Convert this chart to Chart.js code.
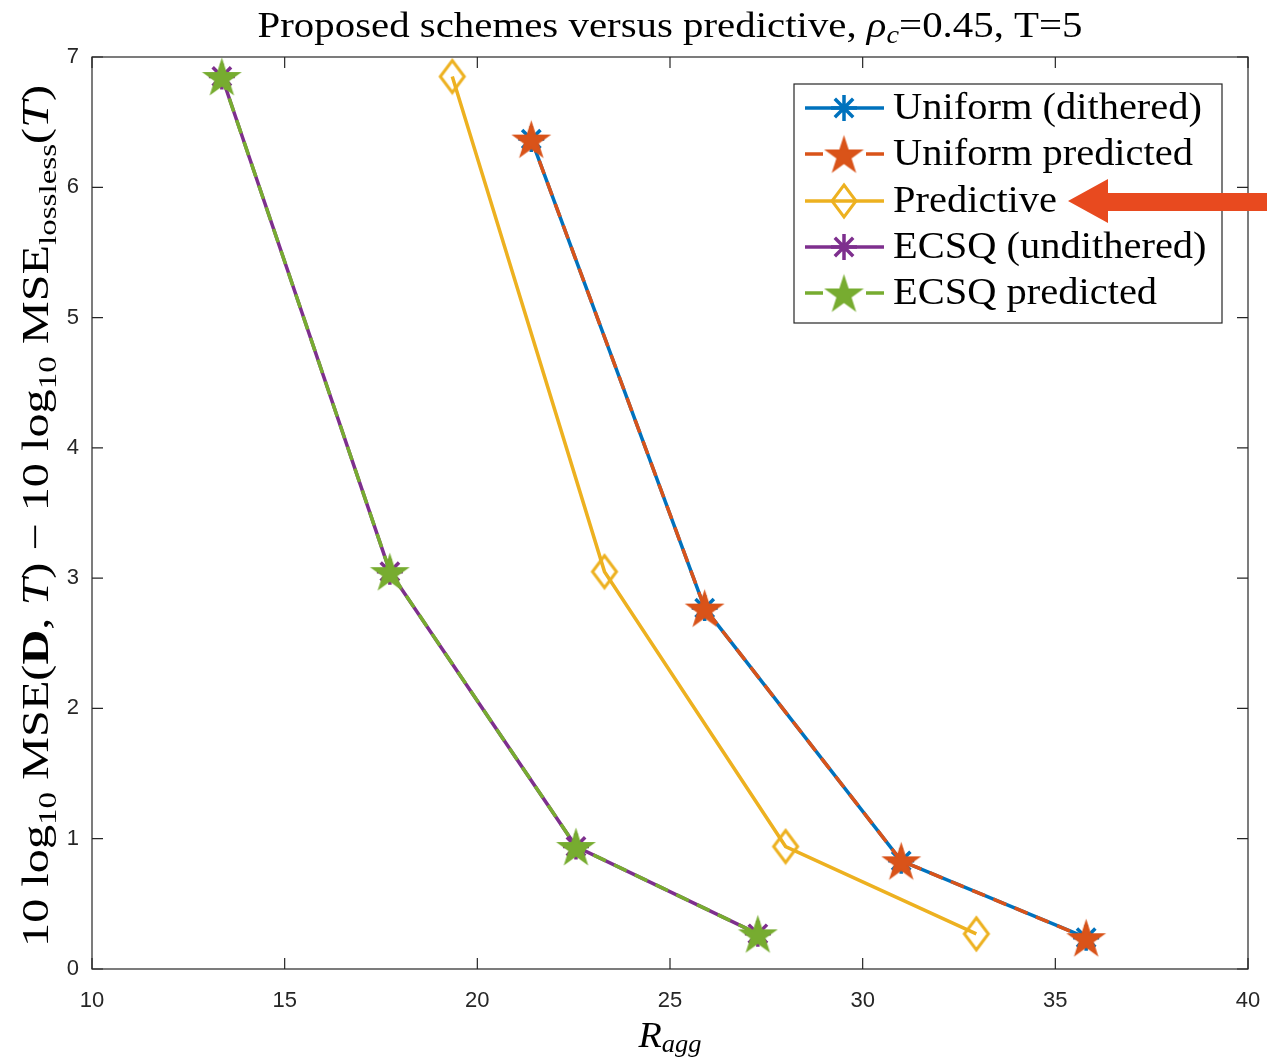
<!DOCTYPE html>
<html>
<head>
<meta charset="utf-8">
<script src="https://cdn.jsdelivr.net/npm/chart.js@4/dist/chart.umd.min.js"></script>
<style>
  html, body { margin: 0; padding: 0; background: #fff; }
  #wrap { width: 1267px; height: 1061px; position: relative; }
</style>
</head>
<body>
<div id="wrap"><canvas id="mseChart" width="1267" height="1061"></canvas></div>
<script>
// values
const uniformX = [21.4, 25.9, 31.0, 35.8];
const uniformY = [6.37, 2.77, 0.83, 0.24];
const predictiveX = [19.35, 23.3, 28.0, 32.95];
const predictiveY = [6.85, 3.05, 0.94, 0.27];
const ecsqX = [13.37, 17.73, 22.56, 27.28];
const ecsqY = [6.85, 3.05, 0.94, 0.27];

const seriesNames = ['Uniform (dithered)', 'Uniform predicted', 'Predictive', 'ECSQ (undithered)', 'ECSQ predicted'];
const xTicks = [10, 15, 20, 25, 30, 35, 40];
const yTicks = [0, 1, 2, 3, 4, 5, 6, 7];

const blue = '#0072BD', orange = '#D95319', yellow = '#EDB120', purple = '#7E2F8E', green = '#77AC30';
const serif = '"Liberation Serif", "DejaVu Serif", serif';

function pts(xs, ys) {
  return xs.map((x, i) => ({ x: x, y: ys[i] }));
}

// pentagram marker (MATLAB 'p')
function pentagram(color, r) {
  const c = document.createElement('canvas');
  const s = Math.ceil(r * 2 + 4);
  c.width = s; c.height = s;
  const g = c.getContext('2d');
  const ri = r * 0.382;
  g.beginPath();
  for (let i = 0; i < 10; i++) {
    const rad = i % 2 === 0 ? r : ri;
    const a = -Math.PI / 2 + i * Math.PI / 5;
    const px = s / 2 + rad * Math.cos(a), py = s / 2 + 2 + rad * Math.sin(a);
    if (i === 0) g.moveTo(px, py); else g.lineTo(px, py);
  }
  g.closePath();
  g.fillStyle = color;
  g.fill();
  g.strokeStyle = color;
  g.lineWidth = 1.5;
  g.stroke();
  return c;
}

// tall open diamond (MATLAB 'd')
function diamond(color, w, h) {
  const c = document.createElement('canvas');
  c.width = w + 6; c.height = h + 6;
  const g = c.getContext('2d');
  const cx = c.width / 2, cy = c.height / 2;
  g.beginPath();
  g.moveTo(cx, cy - h / 2);
  g.lineTo(cx + w / 2, cy);
  g.lineTo(cx, cy + h / 2);
  g.lineTo(cx - w / 2, cy);
  g.closePath();
  g.strokeStyle = color;
  g.lineWidth = 3;
  g.stroke();
  return c;
}

// draws a run of text pieces, squeezed/stretched to a given width
function drawRich(g, pieces, x, y, width) {
  let w = 0;
  pieces.forEach(p => { g.font = p.f; w += g.measureText(p.t).width; });
  const s = width ? width / w : 1;
  g.save();
  g.translate(x, y);
  g.scale(s, 1);
  g.textAlign = 'left';
  let cx = -w / 2;
  pieces.forEach(p => { g.font = p.f; g.fillText(p.t, cx, p.dy || 0); cx += g.measureText(p.t).width; });
  g.restore();
}

const starOrange = pentagram(orange, 18.5);
const starGreen = pentagram(green, 18.5);
const diamondYellow = diamond(yellow, 24, 32);

const chartData = {
  datasets: [
    {
      label: seriesNames[0], data: pts(uniformX, uniformY),
      borderColor: blue, backgroundColor: blue, borderWidth: 3.5,
      pointStyle: 'star', pointRadius: 13, pointBorderWidth: 3.5, order: 5
    },
    {
      label: seriesNames[1], data: pts(uniformX, uniformY),
      borderColor: orange, backgroundColor: orange, borderWidth: 3.5, borderDash: [14, 9],
      pointStyle: starOrange, order: 4
    },
    {
      label: seriesNames[2], data: pts(predictiveX, predictiveY),
      borderColor: yellow, backgroundColor: yellow, borderWidth: 3.5,
      pointStyle: diamondYellow, order: 3
    },
    {
      label: seriesNames[3], data: pts(ecsqX, ecsqY),
      borderColor: purple, backgroundColor: purple, borderWidth: 3.5,
      pointStyle: 'star', pointRadius: 13, pointBorderWidth: 3.5, order: 2
    },
    {
      label: seriesNames[4], data: pts(ecsqX, ecsqY),
      borderColor: green, backgroundColor: green, borderWidth: 3.5, borderDash: [14, 9],
      pointStyle: starGreen, order: 1
    }
  ]
};

// box, inward ticks, title, axis labels, legend and arrow
const decor = {
  id: 'decor',
  afterDatasetsDraw(chart) {
    const g = chart.ctx;
    const a = chart.chartArea;
    const xs = chart.scales.x, ys = chart.scales.y;
    g.save();
    g.strokeStyle = '#262626';
    g.lineWidth = 1.2;
    g.strokeRect(a.left, a.top, a.right - a.left, a.bottom - a.top);
    g.beginPath();
    xTicks.forEach(v => {
      const p = xs.getPixelForValue(v);
      g.moveTo(p, a.bottom); g.lineTo(p, a.bottom - 11);
      g.moveTo(p, a.top); g.lineTo(p, a.top + 11);
    });
    yTicks.forEach(v => {
      const p = ys.getPixelForValue(v);
      g.moveTo(a.left, p); g.lineTo(a.left + 11, p);
      g.moveTo(a.right, p); g.lineTo(a.right - 11, p);
    });
    g.stroke();

    g.fillStyle = '#000';
    g.textBaseline = 'alphabetic';

    // title
    drawRich(g, [
      { t: 'Proposed schemes versus predictive, ', f: '36px ' + serif },
      { t: 'ρ', f: 'italic 36px ' + serif },
      { t: 'c', f: 'italic 25px ' + serif, dy: 6 },
      { t: '=0.45, T=5', f: '36px ' + serif }
    ], 670, 37, 825);

    // x label
    drawRich(g, [
      { t: 'R', f: 'italic 36px ' + serif },
      { t: 'agg', f: 'italic 25px ' + serif, dy: 5 }
    ], 670, 1047, 63);

    // y label, rotated
    g.save();
    g.translate(48, 516);
    g.rotate(-Math.PI / 2);
    const big = '38px ' + serif, sub = '26px ' + serif;
    drawRich(g, [
      { t: '10 log', f: big },
      { t: '10', f: sub, dy: 8 },
      { t: ' MSE(', f: big },
      { t: 'D', f: 'bold ' + big },
      { t: ', ', f: big },
      { t: 'T', f: 'italic ' + big },
      { t: ') − 10 log', f: big },
      { t: '10', f: sub, dy: 8 },
      { t: ' MSE', f: big },
      { t: 'lossless', f: sub, dy: 8 },
      { t: '(', f: big },
      { t: 'T', f: 'italic ' + big },
      { t: ')', f: big }
    ], 0, 0, 862);
    g.restore();

    // legend
    const lb = { x: 794, y: 84, w: 428, h: 239 };
    g.fillStyle = '#fff';
    g.fillRect(lb.x, lb.y, lb.w, lb.h);
    g.strokeStyle = '#262626';
    g.lineWidth = 1.2;
    g.strokeRect(lb.x, lb.y, lb.w, lb.h);
    const rowY = [108, 154, 201, 247, 293];
    g.font = '38px ' + serif;
    const ls = 309 / g.measureText(seriesNames[0]).width;
    chart.data.datasets.forEach((ds, i) => {
      const y = rowY[i];
      g.strokeStyle = ds.borderColor;
      g.lineWidth = 3.5;
      g.setLineDash(ds.borderDash ? [18, 43] : []);
      g.beginPath();
      g.moveTo(805, y); g.lineTo(884, y);
      g.stroke();
      g.setLineDash([]);
      const ps = ds.pointStyle;
      if (typeof ps === 'string') {
        Chart.helpers.drawPoint(g, { pointStyle: ps, radius: 13, borderWidth: 3.5 }, 844, y);
      } else {
        g.drawImage(ps, 844 - ps.width / 2, y - ps.height / 2);
      }
      g.save();
      g.fillStyle = '#000';
      g.font = '38px ' + serif;
      g.textBaseline = 'middle';
      g.textAlign = 'left';
      g.translate(893, y + 1);
      g.scale(ls, 1);
      g.fillText(ds.label, 0, 0);
      g.restore();
    });

    // arrow pointing at the Predictive entry
    g.fillStyle = '#E84A1F';
    g.beginPath();
    g.moveTo(1068, 201);
    g.lineTo(1108, 179);
    g.lineTo(1108, 193);
    g.lineTo(1267, 193);
    g.lineTo(1267, 211);
    g.lineTo(1108, 211);
    g.lineTo(1108, 223);
    g.closePath();
    g.fill();
    g.restore();
  }
};

const mseChart = new Chart(document.getElementById('mseChart').getContext('2d'), {
  type: 'scatter',
  data: chartData,
  options: {
    responsive: false,
    animation: false,
    showLine: true,
    layout: { padding: { top: 57, right: 19, left: 0, bottom: 0 } },
    elements: { line: { tension: 0 } },
    plugins: {
      legend: { display: false },
      title: { display: false },
      tooltip: { enabled: false }
    },
    scales: {
      x: {
        type: 'linear', min: 10, max: 40,
        grid: { display: false }, border: { display: false },
        ticks: { stepSize: 5, padding: 11, color: '#262626', font: { family: '"Liberation Sans", Arial, sans-serif', size: 22 } },
        afterFit(s) { s.height = 92; s.paddingRight = 0; s.paddingLeft = 0; }
      },
      y: {
        type: 'linear', min: 0, max: 7,
        grid: { display: false }, border: { display: false },
        ticks: { stepSize: 1, padding: 5, color: '#262626', font: { family: '"Liberation Sans", Arial, sans-serif', size: 22 } },
        afterFit(s) { s.width = 92; s.paddingTop = 0; s.paddingBottom = 0; }
      }
    }
  },
  plugins: [decor]
});
</script>
</body>
</html>
